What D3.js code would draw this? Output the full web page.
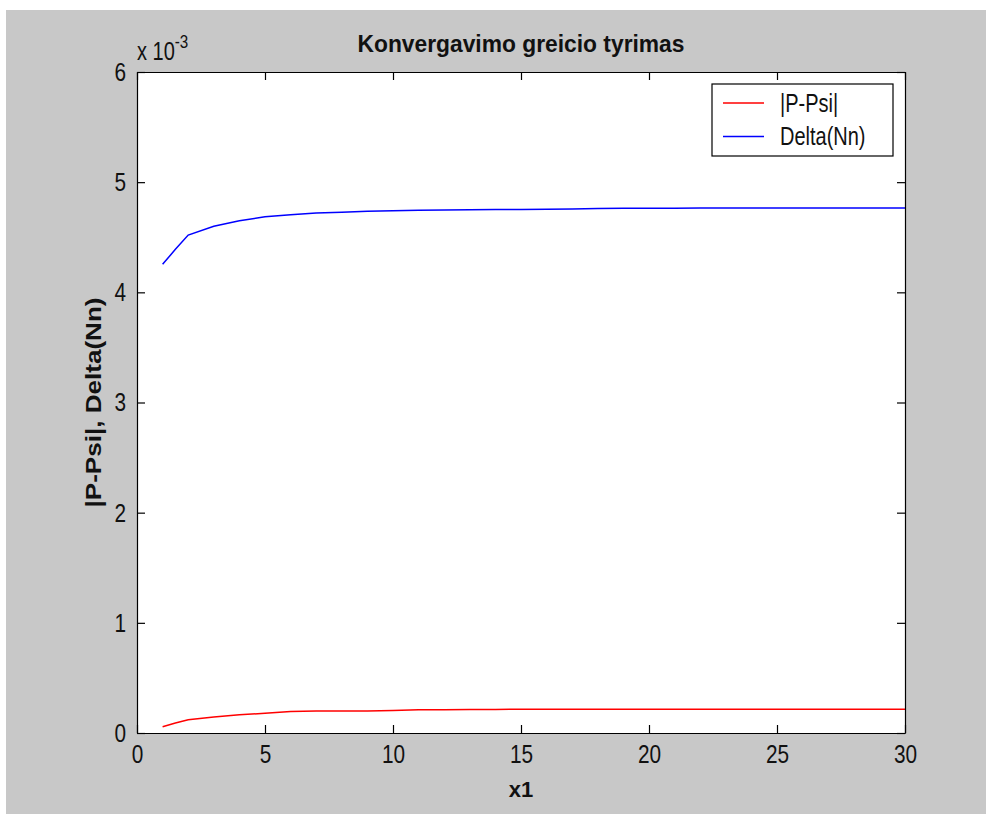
<!DOCTYPE html>
<html>
<head>
<meta charset="utf-8">
<script src="https://cdn.jsdelivr.net/npm/d3@7"></script>
<style>
  body { margin: 0; background: #fff; }
  text { font-family: Arial, "Liberation Sans", sans-serif; }
</style>
</head>
<body>
<div id="chart"></div>
<script>
// Data (y values in units of 1e-3)
const xValues = [1, 1.5, 2, 3, 4, 5, 6, 7, 8, 9, 10, 11, 12, 13, 14, 15, 16, 17, 18, 19, 20, 21, 22, 23, 24, 25, 26, 27, 28, 29, 30];
const psiValues = [0.057, 0.09, 0.12, 0.145, 0.165, 0.18, 0.195, 0.2, 0.2, 0.2, 0.205, 0.21, 0.212, 0.213, 0.214, 0.215, 0.215, 0.215, 0.215, 0.215, 0.215, 0.215, 0.215, 0.215, 0.215, 0.215, 0.215, 0.215, 0.215, 0.215, 0.215];
const deltaValues = [4.254, 4.39, 4.52, 4.6, 4.65, 4.685, 4.705, 4.72, 4.728, 4.735, 4.74, 4.745, 4.748, 4.75, 4.752, 4.753, 4.755, 4.757, 4.762, 4.763, 4.764, 4.764, 4.765, 4.765, 4.765, 4.765, 4.765, 4.765, 4.765, 4.765, 4.765];
const xTicks = [0, 5, 10, 15, 20, 25, 30];
const yTicks = [0, 1, 2, 3, 4, 5, 6];
const seriesNames = ['|P-Psi|', 'Delta(Nn)'];
const seriesColors = ['#ff0000', '#0000ff'];

const W = 986, H = 814;
const margin = { top: 72, right: 81, bottom: 81, left: 137 };
const width = W - margin.left - margin.right;
const height = H - margin.top - margin.bottom;
const squeeze = 0.8; // the original font is tall and narrow

const svg = d3.select('#chart').append('svg')
  .attr('width', W)
  .attr('height', H);

// Figure background
svg.append('rect')
  .attr('x', 6).attr('y', 10)
  .attr('width', W - 6).attr('height', H - 10)
  .attr('fill', '#c8c8c8');

const g = svg.append('g')
  .attr('transform', `translate(${margin.left},${margin.top})`);

const x = d3.scaleLinear().domain([0, 30]).range([0, width]);
const y = d3.scaleLinear().domain([0, 6]).range([height, 0]);

// Plot area
g.append('rect')
  .attr('width', width).attr('height', height)
  .attr('fill', '#fff');

// Lines
const series = [psiValues, deltaValues];
const line = d3.line()
  .x((d, i) => x(xValues[i]))
  .y((d) => y(d));

series.forEach(function (vals, k) {
  g.append('path')
    .datum(vals)
    .attr('d', line)
    .attr('fill', 'none')
    .attr('stroke', seriesColors[k])
    .attr('stroke-width', 1.5);
});

// Axes with inward ticks on all four sides
const tickLen = 8;
const axisStyle = function (sel) {
  sel.select('.domain').attr('stroke', '#000').attr('stroke-width', 1.2);
  sel.selectAll('.tick line').attr('stroke', '#000').attr('stroke-width', 1.2);
  sel.selectAll('.tick text')
    .attr('fill', '#111')
    .style('font-size', '26px')
    .attr('x', function () { return (+d3.select(this).attr('x') || 0) / squeeze; })
    .attr('transform', `scale(${squeeze},1)`);
};

g.append('g')
  .attr('transform', `translate(0,${height})`)
  .call(d3.axisBottom(x).tickValues(xTicks).tickFormat(d3.format('d'))
    .tickSizeInner(-tickLen).tickSizeOuter(0).tickPadding(12))
  .call(axisStyle);

g.append('g')
  .call(d3.axisTop(x).tickValues(xTicks).tickSizeInner(-tickLen).tickSizeOuter(0).tickFormat(''))
  .call(axisStyle);

g.append('g')
  .call(d3.axisLeft(y).tickValues(yTicks).tickFormat(d3.format('d'))
    .tickSizeInner(-tickLen).tickSizeOuter(0).tickPadding(11))
  .call(axisStyle);

g.append('g')
  .attr('transform', `translate(${width},0)`)
  .call(d3.axisRight(y).tickValues(yTicks).tickSizeInner(-tickLen).tickSizeOuter(0).tickFormat(''))
  .call(axisStyle);

// Exponent label
const expo = svg.append('text')
  .attr('transform', `translate(${margin.left},60) scale(${squeeze},1)`)
  .attr('fill', '#111')
  .style('font-size', '25px');
expo.append('tspan').text('x 10');
expo.append('tspan').attr('dy', -12).style('font-size', '19px').text('-3');

// Title
svg.append('text')
  .attr('x', margin.left + width / 2)
  .attr('y', 52)
  .attr('text-anchor', 'middle')
  .attr('textLength', 327)
  .attr('lengthAdjust', 'spacingAndGlyphs')
  .style('font-size', '23px')
  .style('font-weight', 'bold')
  .attr('fill', '#111')
  .text('Konvergavimo greicio tyrimas');

// Axis labels
svg.append('text')
  .attr('x', margin.left + width / 2)
  .attr('y', 797)
  .attr('text-anchor', 'middle')
  .style('font-size', '22px')
  .style('font-weight', 'bold')
  .attr('fill', '#111')
  .text('x1');

svg.append('text')
  .attr('transform', `translate(101,${margin.top + height / 2}) rotate(-90)`)
  .attr('text-anchor', 'middle')
  .attr('textLength', 210)
  .attr('lengthAdjust', 'spacingAndGlyphs')
  .style('font-size', '22px')
  .style('font-weight', 'bold')
  .attr('fill', '#111')
  .text('|P-Psi|, Delta(Nn)');

// Legend
const legend = svg.append('g').attr('transform', 'translate(712,84)');
legend.append('rect')
  .attr('width', 181).attr('height', 72)
  .attr('fill', '#fff')
  .attr('stroke', '#000')
  .attr('stroke-width', 1.2);

const items = legend.selectAll('.legend')
  .data(seriesNames)
  .enter()
  .append('g')
  .attr('class', 'legend')
  .attr('transform', (d, i) => `translate(0,${19 + i * 33.5})`);

items.append('line')
  .attr('x1', 11).attr('x2', 52)
  .attr('stroke', (d, i) => seriesColors[i])
  .attr('stroke-width', 1.5);

items.append('text')
  .attr('transform', `translate(68,0) scale(${squeeze},1)`)
  .attr('dy', '.35em')
  .style('font-size', '25px')
  .attr('fill', '#111')
  .text((d) => d);
</script>
</body>
</html>
